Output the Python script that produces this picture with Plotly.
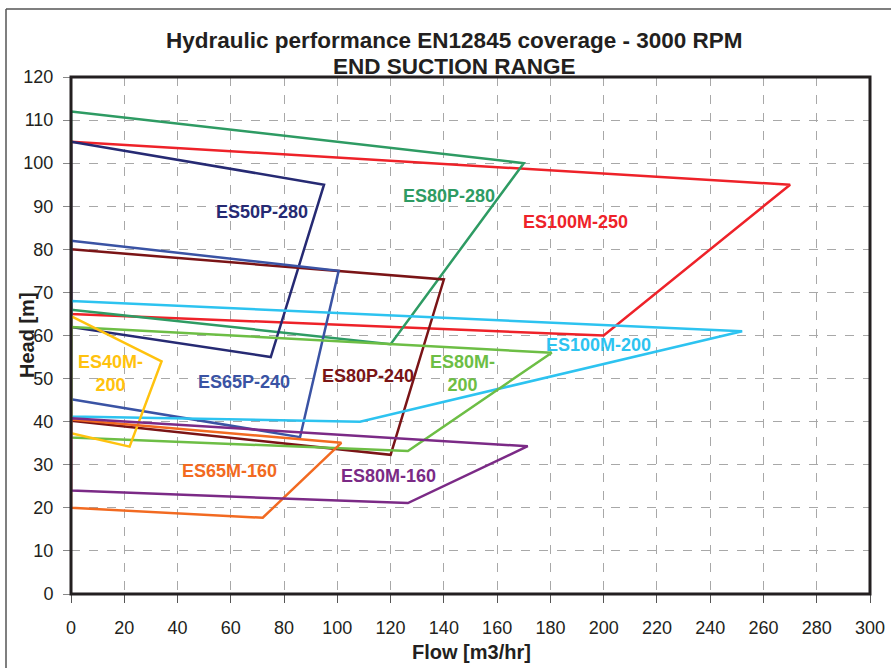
import plotly.graph_objects as go

# ---- data ----
series_names = ["ES100M-250", "ES80P-280", "ES50P-280", "ES80P-240", "ES65P-240",
                "ES100M-200", "ES80M-200", "ES40M-200", "ES65M-160", "ES80M-160"]

es100m250_flow = [0, 270, 200, 0, 0]
es100m250_head = [105, 95, 60, 65, 105]

es80p280_flow = [0, 170, 120, 0, 0]
es80p280_head = [112, 100, 58, 66, 112]

es50p280_flow = [0, 95, 75, 0, 0]
es50p280_head = [105, 95, 55, 62, 105]

es80p240_flow = [0, 140, 120, 0, 0]
es80p240_head = [80, 73, 32.3, 40.2, 80]

es65p240_flow = [0, 100.5, 86, 0, 0]
es65p240_head = [82, 75, 36.4, 45.2, 82]

es100m200_flow = [0, 252, 108.5, 0, 0]
es100m200_head = [68, 61, 40, 41.2, 68]

es80m200_flow = [0, 180.5, 126.5, 0, 0]
es80m200_head = [62, 56, 33.2, 36.3, 62]

es40m200_flow = [0, 34, 22, 0, 0]
es40m200_head = [64.5, 54, 34.2, 37.3, 64.5]

es65m160_flow = [0, 101.5, 72, 0, 0]
es65m160_head = [40.5, 35.1, 17.7, 20, 40.5]

es80m160_flow = [0, 171.5, 126.5, 0, 0]
es80m160_head = [40.8, 34.3, 21.1, 24, 40.8]

colors = ["#EE2229", "#2E9B63", "#262A73", "#7A1416", "#3A53A4",
          "#2DC3F0", "#6DBE45", "#FFC20E", "#F26A21", "#7B2A86"]

label_texts = ["ES100M-250", "ES80P-280", "ES50P-280", "ES80P-240", "ES65P-240",
               "ES100M-200", "ES80M-<br>200", "ES40M-<br>200", "ES65M-160", "ES80M-160"]
label_x = [189.5, 141.8, 71.8, 111.4, 64.9, 198, 147, 14.7, 59.5, 119.3]
label_y = [86.4, 92.3, 88.6, 50.5, 49.2, 57.7, 51.2, 51.2, 28.5, 27.3]

x_ticks = list(range(0, 301, 20))
y_ticks = list(range(0, 121, 10))

flows = [es100m250_flow, es80p280_flow, es50p280_flow, es80p240_flow, es65p240_flow,
         es100m200_flow, es80m200_flow, es40m200_flow, es65m160_flow, es80m160_flow]
heads = [es100m250_head, es80p280_head, es50p280_head, es80p240_head, es65p240_head,
         es100m200_head, es80m200_head, es40m200_head, es65m160_head, es80m160_head]

FONT = "Liberation Sans, Arial, sans-serif"
TXT = "#231F20"

# layout geometry in pixels
W, H = 891, 668
ML, MR, MT, MB = 71, 21, 77, 74
PW, PH = W - ML - MR, H - MT - MB


def px_x(p):
    return (p - ML) / PW


def px_y(p):
    return 1 + (MT - p) / PH


fig = go.Figure()
for name, fx, hy, c in zip(series_names, flows, heads, colors):
    fig.add_trace(go.Scatter(x=fx, y=hy, mode="lines", name=name,
                             line=dict(color=c, width=2.5), showlegend=False,
                             hoverinfo="x+y+name"))

for t, lx, ly, c in zip(label_texts, label_x, label_y, colors):
    fig.add_annotation(x=lx, y=ly, xref="x", yref="y", text="<b>" + t + "</b>",
                       showarrow=False, font=dict(family=FONT, size=18, color=c),
                       align="center")

# titles
fig.add_annotation(x=px_x(454), y=px_y(40), xref="paper", yref="paper",
                   text="<b>Hydraulic performance EN12845 coverage - 3000 RPM</b>",
                   showarrow=False, xanchor="center", yanchor="middle",
                   font=dict(family=FONT, size=22.5, color=TXT))
fig.add_annotation(x=px_x(454), y=px_y(66), xref="paper", yref="paper",
                   text="<b>END SUCTION RANGE</b>",
                   showarrow=False, xanchor="center", yanchor="middle",
                   font=dict(family=FONT, size=22.5, color=TXT))
# axis titles
fig.add_annotation(x=px_x(471), y=px_y(652), xref="paper", yref="paper",
                   text="<b>Flow [m3/hr]</b>", showarrow=False,
                   xanchor="center", yanchor="middle",
                   font=dict(family=FONT, size=20, color=TXT))
fig.add_annotation(x=px_x(27), y=px_y(335), xref="paper", yref="paper",
                   text="<b>Head [m]</b>", showarrow=False, textangle=-90,
                   xanchor="center", yanchor="middle",
                   font=dict(family=FONT, size=20, color=TXT))

fig.update_xaxes(range=[0, 300], tickvals=x_ticks, showgrid=True, gridcolor="#A8A8A8",
                 griddash="dash", gridwidth=1, ticks="outside", ticklen=8, tickcolor="#555555",
                 tickfont=dict(family=FONT, size=18, color=TXT), zeroline=False,
                 showline=False, ticklabelstandoff=9, automargin=False)
fig.update_yaxes(range=[0, 120], tickvals=y_ticks, showgrid=True, gridcolor="#A8A8A8",
                 griddash="dash", gridwidth=1, ticks="outside", ticklen=7, tickcolor="#888888",
                 tickfont=dict(family=FONT, size=18, color=TXT), zeroline=False,
                 showline=False, ticklabelstandoff=6, automargin=False)

# plot area frame
fig.add_shape(type="rect", xref="x domain", yref="y domain", x0=0, y0=0, x1=1, y1=1,
              line=dict(color=TXT, width=3), layer="above")

# outer frame (left and top edges of the picture border)
fig.add_shape(type="line", xref="paper", yref="paper",
              x0=px_x(6), x1=px_x(6), y0=px_y(700), y1=px_y(9),
              line=dict(color="#555555", width=1.5))
fig.add_shape(type="line", xref="paper", yref="paper",
              x0=px_x(6), x1=px_x(900), y0=px_y(9), y1=px_y(9),
              line=dict(color="#555555", width=1.5))

fig.update_layout(
    width=W, height=H,
    margin=dict(l=ML, r=MR, t=MT, b=MB),
    paper_bgcolor="white", plot_bgcolor="white",
)

fig.write_html("out.html", config={"displayModeBar": False},
               post_script="document.body.style.margin='0';document.body.style.overflow='hidden';")
